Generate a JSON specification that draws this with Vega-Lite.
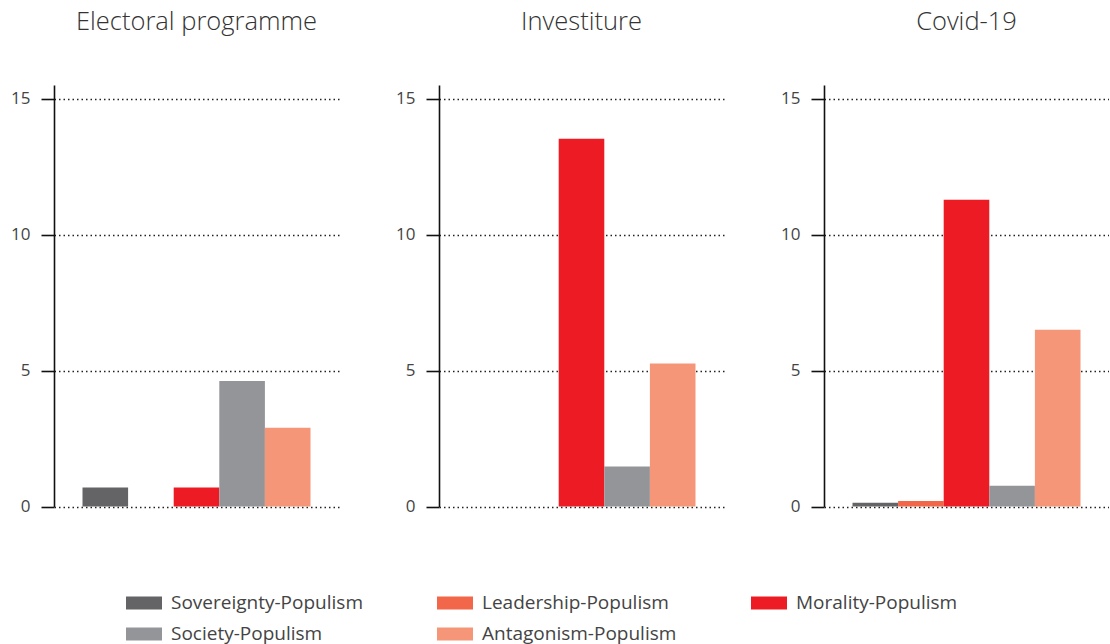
{
  "$schema": "https://vega.github.io/schema/vega-lite/v6.json",
  "padding": {"left": 10, "top": 9, "right": 0, "bottom": 0},
  "data": {"values": [
    {"panel": "Electoral programme", "type": "Sovereignty-Populism", "value": 0.7},
    {"panel": "Electoral programme", "type": "Leadership-Populism", "value": 0},
    {"panel": "Electoral programme", "type": "Morality-Populism", "value": 0.7},
    {"panel": "Electoral programme", "type": "Society-Populism", "value": 4.62},
    {"panel": "Electoral programme", "type": "Antagonism-Populism", "value": 2.9},
    {"panel": "Investiture", "type": "Sovereignty-Populism", "value": 0},
    {"panel": "Investiture", "type": "Leadership-Populism", "value": 0},
    {"panel": "Investiture", "type": "Morality-Populism", "value": 13.52},
    {"panel": "Investiture", "type": "Society-Populism", "value": 1.47},
    {"panel": "Investiture", "type": "Antagonism-Populism", "value": 5.26},
    {"panel": "Covid-19", "type": "Sovereignty-Populism", "value": 0.14},
    {"panel": "Covid-19", "type": "Leadership-Populism", "value": 0.21},
    {"panel": "Covid-19", "type": "Morality-Populism", "value": 11.28},
    {"panel": "Covid-19", "type": "Society-Populism", "value": 0.77},
    {"panel": "Covid-19", "type": "Antagonism-Populism", "value": 6.5}
  ]},
  "facet": {
    "column": {
      "field": "panel", "type": "nominal",
      "sort": ["Electoral programme", "Investiture", "Covid-19"],
      "header": {"title": null, "labelFontSize": 25.5, "labelFont": "Open Sans", "labelFontWeight": 300, "labelColor": "#333333", "labelPadding": 50}
    }
  },
  "spacing": 56,
  "resolve": {"axis": {"y": "independent"}},
  "spec": {
    "width": 285,
    "height": 421.6,
    "mark": {"type": "bar"},
    "encoding": {
      "x": {
        "field": "type", "type": "nominal",
        "sort": ["Sovereignty-Populism", "Leadership-Populism", "Morality-Populism", "Society-Populism", "Antagonism-Populism"],
        "scale": {"paddingInner": 0, "paddingOuter": 0.625},
        "axis": null
      },
      "y": {
        "field": "value", "type": "quantitative",
        "scale": {"domain": [0, 15.5], "nice": false},
        "axis": {
          "title": null, "values": [0, 5, 10, 15],
          "domainColor": "#111111", "domainWidth": 1.6,
          "tickColor": "#111111", "tickWidth": 1.6, "tickSize": 13,
          "labelFont": "Open Sans", "labelFontSize": 17, "labelColor": "#444444", "labelPadding": 11,
          "grid": true, "gridColor": "#222222", "gridDash": [1.5, 3], "gridWidth": 1.5
        }
      },
      "color": {
        "field": "type", "type": "nominal",
        "sort": ["Sovereignty-Populism", "Leadership-Populism", "Morality-Populism", "Society-Populism", "Antagonism-Populism"],
        "scale": {
          "domain": ["Sovereignty-Populism", "Leadership-Populism", "Morality-Populism", "Society-Populism", "Antagonism-Populism"],
          "range": ["#646466", "#f26649", "#ed1c24", "#939598", "#f69679"]
        },
        "legend": {
          "title": null, "orient": "none", "legendX": 72, "legendY": 500, "direction": "horizontal", "columns": 3,
          "symbolType": "M-1,-0.361H1V0.361H-1Z", "symbolSize": 1296, "symbolStrokeWidth": 0,
          "labelFont": "Open Sans", "labelFontSize": 19, "labelColor": "#444444",
          "labelOffset": 9, "columnPadding": 74, "rowPadding": 3, "labelLimit": 300
        }
      }
    }
  },
  "config": {"view": {"stroke": null}}
}
